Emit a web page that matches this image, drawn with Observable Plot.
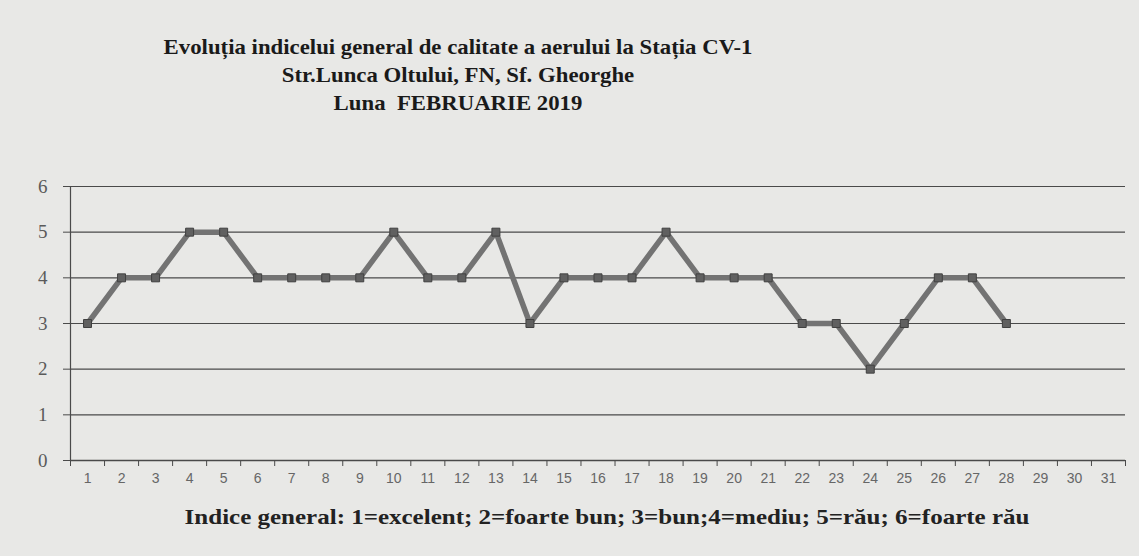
<!DOCTYPE html>
<html>
<head>
<meta charset="utf-8">
<script src="https://cdn.jsdelivr.net/npm/d3@7"></script>
<script src="https://cdn.jsdelivr.net/npm/@observablehq/plot@0.6"></script>
<style>
  html, body { margin: 0; padding: 0; background: #e8e8e6; }
  body { width: 1139px; height: 556px; position: relative; overflow: hidden; }
  .title { position: absolute; left: 0; top: 33px; width: 916px; text-align: center;
    font-family: "Liberation Serif", "Times New Roman", serif; font-weight: bold; font-size: 21px;
    line-height: 28px; color: #1a1a1a; transform: scaleX(1.085); transform-origin: 458px 0; }
  #chart { position: absolute; left: 0; top: 160px; }
  .caption { position: absolute; left: 0; top: 505px; width: 1214px; text-align: center;
    font-family: "Liberation Serif", "Times New Roman", serif; font-weight: bold; font-size: 21px;
    color: #222; transform: scaleX(1.19); transform-origin: 607px 0; }
</style>
</head>
<body>
<div class="title">Evoluția indicelui general de calitate a aerului la Stația CV-1<br>Str.Lunca Oltului, FN, Sf. Gheorghe<br>Luna&nbsp; FEBRUARIE 2019</div>
<div id="chart"></div>
<div class="caption">Indice general: 1=excelent; 2=foarte bun; 3=bun;4=mediu; 5=rău; 6=foarte rău</div>
<script>
const days = d3.range(1, 32);
const dataDays = d3.range(1, 29);
const indexValues = [3,4,4,5,5,4,4,4,4,5,4,4,5,3,4,4,4,5,4,4,4,3,3,2,3,4,4,3];
const yTicks = [0,1,2,3,4,5,6];
const data = dataDays.map((d, i) => ({day: d, value: indexValues[i]}));
const boundaries = d3.range(0.5, 32, 1);

const chart = Plot.plot({
  width: 1139,
  height: 340,
  marginLeft: 70,
  marginRight: 14,
  marginTop: 26,
  marginBottom: 40,
  style: {background: "transparent", overflow: "visible", fontFamily: "'Liberation Serif', serif"},
  x: {domain: [0.5, 31.5]},
  y: {domain: [0, 6]},
  marks: [
    Plot.ruleY(yTicks.filter(d => d > 0), {stroke: "#4a4a4a", strokeWidth: 1.2, strokeOpacity: 1}),
    Plot.axisY({ticks: yTicks, tickSize: 7, tickPadding: 16, stroke: "#4a4a4a", tickFormat: d => String(d),
      fontSize: 19, fontFamily: "Liberation Serif", fill: "#5a5a5a", label: null}),
    Plot.axisX({ticks: boundaries, tickSize: 6, tickFormat: () => "", stroke: "#4a4a4a", label: null}),
    Plot.axisX({ticks: days, tickSize: 0, tickPadding: 13, tickFormat: d => String(d),
      fontSize: 14, fontFamily: "Liberation Sans", fill: "#666", label: null}),
    Plot.ruleX([0.5], {y1: 0, y2: 6, stroke: "#4a4a4a", strokeWidth: 1.2}),
    Plot.ruleY([0], {stroke: "#4a4a4a", strokeWidth: 1.4}),
    Plot.line(data, {x: "day", y: "value", stroke: "#737373", strokeWidth: 5.5, strokeLinejoin: "miter"}),
    Plot.dot(data, {x: "day", y: "value", symbol: "square", r: 4.5, fill: "#606060", stroke: "#404040", strokeWidth: 1})
  ]
});
document.getElementById("chart").appendChild(chart);
</script>
</body>
</html>
